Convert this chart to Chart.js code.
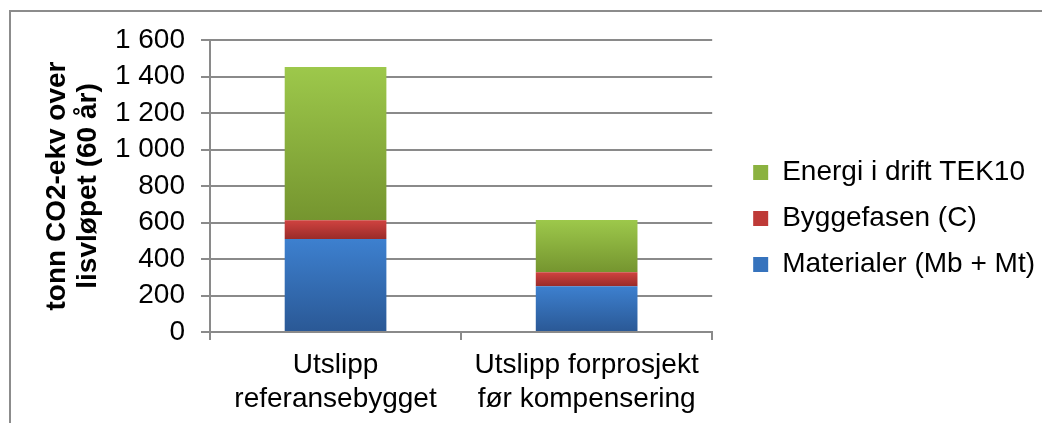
<!DOCTYPE html>
<html>
<head>
<meta charset="utf-8">
<script src="https://cdn.jsdelivr.net/npm/chart.js@4/dist/chart.umd.min.js"></script>
<style>
  html, body { margin: 0; padding: 0; background: #fff; }
  #wrap { width: 1042px; height: 423px; position: relative; }
</style>
</head>
<body>
<div id="wrap"><canvas id="c" width="1042" height="423"></canvas></div>
<script>
const categories = [["Utslipp", "referansebygget"], ["Utslipp forprosjekt", "før kompensering"]];
const seriesNames = ["Materialer (Mb + Mt)", "Byggefasen (C)", "Energi i drift TEK10"];
const materialer = [509, 251];
const byggefasen = [104, 77];
const energi = [839, 286];
const yTicks = [0, 200, 400, 600, 800, 1000, 1200, 1400, 1600];

const palettes = [
  { top: '#3d80cf', bottom: '#2a5895', solid: '#3673bd' },
  { top: '#d04340', bottom: '#9a2b29', solid: '#be3a37' },
  { top: '#9dc84b', bottom: '#75952f', solid: '#8bb240' }
];

const allSeries = [materialer, byggefasen, energi];

function gradFill(dsIndex) {
  return function(ctx) {
    const chart = ctx.chart;
    const pal = palettes[dsIndex];
    if (ctx.type !== 'data' || !chart.chartArea || !chart.scales.y) return pal.solid;
    const i = ctx.dataIndex;
    let start = 0;
    for (let k = 0; k < dsIndex; k++) start += allSeries[k][i];
    const end = start + allSeries[dsIndex][i];
    const y = chart.scales.y;
    const top = y.getPixelForValue(end);
    const bottom = y.getPixelForValue(start);
    if (!isFinite(top) || !isFinite(bottom) || top === bottom) return pal.solid;
    const g = chart.ctx.createLinearGradient(0, top, 0, bottom);
    g.addColorStop(0, pal.top);
    g.addColorStop(1, pal.bottom);
    return g;
  };
}

const framePlugin = {
  id: 'frame',
  beforeDraw(chart) {
    const c = chart.ctx;
    c.save();
    c.fillStyle = '#ffffff';
    c.fillRect(0, 0, chart.width, chart.height);
    c.strokeStyle = '#8c8c8c';
    c.lineWidth = 2;
    c.beginPath();
    c.moveTo(10, chart.height + 5);
    c.lineTo(10, 11);
    c.lineTo(chart.width + 5, 11);
    c.stroke();
    c.restore();
  },
  afterLayout(chart) {
    const L = chart.legend;
    if (!L) return;
    L.left += 23; L.right += 23;
    L.top -= 13; L.bottom -= 13;
  }
};

const FONT = "'Liberation Sans', Arial, sans-serif";

new Chart(document.getElementById('c'), {
  type: 'bar',
  data: {
    labels: categories,
    datasets: seriesNames.map((name, k) => ({
      label: name,
      data: allSeries[k],
      backgroundColor: gradFill(k),
      borderWidth: 0,
      categoryPercentage: 1,
      barPercentage: 0.405
    }))
  },
  plugins: [framePlugin],
  options: {
    responsive: false,
    animation: false,
    events: [],
    layout: { padding: { top: 40, right: 20, bottom: 0, left: 0 } },
    plugins: {
      tooltip: { enabled: false },
      legend: {
        position: 'right',
        align: 'center',
        reverse: true,
        maxWidth: 400,
        labels: {
          color: '#000',
          font: { family: FONT, size: 28 },
          boxWidth: 15,
          boxHeight: 15,
          padding: 18,
          generateLabels(chart) {
            return chart.data.datasets.map((ds, k) => ({
              text: ds.label,
              fillStyle: palettes[k].solid,
              strokeStyle: palettes[k].solid,
              lineWidth: 0,
              hidden: false,
              datasetIndex: k,
              fontColor: '#000'
            }));
          }
        }
      }
    },
    scales: {
      x: {
        stacked: true,
        offset: true,
        afterFit(s) { s.height = 91; },
        grid: {
          offset: true,
          drawOnChartArea: false,
          drawTicks: true,
          tickLength: 8,
          color: '#8a8a8a',
          lineWidth: 2
        },
        border: { display: true, color: '#8a8a8a', width: 2 },
        ticks: {
          color: '#000',
          padding: 8,
          maxRotation: 0,
          font: { family: FONT, size: 28, lineHeight: 1.22 }
        }
      },
      y: {
        stacked: true,
        min: 0,
        max: 1600,
        afterFit(s) { s.width = 210; },
        afterBuildTicks(s) { s.ticks = yTicks.map(v => ({ value: v })); },
        grid: {
          color: '#8a8a8a',
          lineWidth: 2,
          tickLength: 9,
          drawTicks: true
        },
        border: { display: true, color: '#8a8a8a', width: 2 },
        ticks: {
          color: '#000',
          padding: 16,
          autoSkip: false,
          font: { family: FONT, size: 28 },
          callback(v) { return String(v).replace(/\B(?=(\d{3})+(?!\d))/g, ' '); }
        },
        title: {
          display: true,
          text: ["tonn CO2-ekv over", "lisvløpet (60 år)"],
          color: '#000',
          padding: { top: 42, bottom: 0 },
          font: { family: FONT, size: 28, weight: 'bold', lineHeight: 1.1 }
        }
      }
    }
  }
});
</script>
</body>
</html>
